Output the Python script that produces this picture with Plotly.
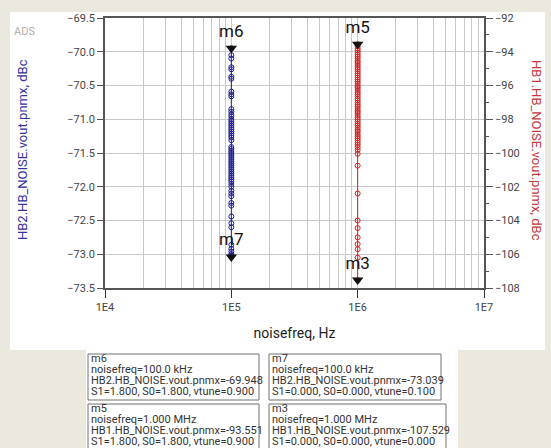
import plotly.graph_objects as go

# ---------------- data ----------------
hb2_freq = 1e5
hb2_pnmx = [-69.948, -70.05, -70.10, -70.23, -70.26, -70.37, -70.40, -70.59, -70.63, -70.66,
            -70.85, -70.89, -70.93, -70.96, -71.00, -71.03, -71.06, -71.09, -71.12, -71.15,
            -71.18, -71.21, -71.24, -71.27, -71.31, -71.41, -71.44, -71.47, -71.50, -71.53,
            -71.56, -71.59, -71.62, -71.65, -71.68, -71.71, -71.74, -71.77, -71.80, -71.83,
            -71.86, -71.89, -71.92, -71.96, -72.00, -72.06, -72.10, -72.14, -72.24, -72.28,
            -72.44, -72.54, -72.60, -72.86, -72.92, -72.96, -73.00, -73.02, -73.039]

hb1_freq = 1e6
hb1_pnmx = [-93.551, -93.68, -93.81, -93.92, -94.05, -94.18, -94.29, -94.42, -94.56, -94.66,
            -94.79, -94.92, -95.03, -95.16, -95.29, -95.40, -95.53, -95.66, -95.77, -95.90,
            -96.04, -96.14, -96.27, -96.41, -96.51, -96.64, -96.78, -96.88, -97.02, -97.15,
            -97.25, -97.39, -97.52, -97.62, -97.76, -97.89, -98.00, -98.13, -98.27, -98.37,
            -98.50, -98.64, -98.74, -98.88, -99.01, -99.12, -99.25, -99.39, -99.52, -99.66,
            -99.82, -100.05, -100.75, -102.40, -104.00, -104.45, -105.00, -105.40, -105.70,
            -106.20, -107.529]

marker_names = ["m6", "m7", "m5", "m3"]
marker_freq = [1e5, 1e5, 1e6, 1e6]
marker_freq_text = ["100.0 kHz", "100.0 kHz", "1.000 MHz", "1.000 MHz"]
marker_vals = [-69.948, -73.039, -93.551, -107.529]
marker_expr = ["HB2.HB_NOISE.vout.pnmx", "HB2.HB_NOISE.vout.pnmx",
               "HB1.HB_NOISE.vout.pnmx", "HB1.HB_NOISE.vout.pnmx"]
marker_axis = ["y", "y", "y2", "y2"]
marker_s1 = ["1.800", "0.000", "1.800", "0.000"]
marker_s0 = ["1.800", "0.000", "1.800", "0.000"]
marker_vtune = ["0.900", "0.100", "0.900", "0.000"]

x_tick_vals = [1e4, 1e5, 1e6, 1e7]
x_tick_text = ["1E4", "1E5", "1E6", "1E7"]

# ---------------- layout geometry ----------------
W, H = 551, 448
L, R, T, B = 105, 484, 18, 288


def px(x):
    return (x - L) / (R - L)


def py(y):
    return (B - y) / (B - T)


BLUE = "#1f1f8f"
RED = "#d02424"
BEIGE = "#ebe8de"
FONT = "Roboto"

fig = go.Figure()

fig.add_trace(go.Scatter(
    x=[hb2_freq] * len(hb2_pnmx), y=hb2_pnmx, mode="lines+markers",
    line=dict(color=BLUE, width=1),
    marker=dict(symbol="circle-open", size=5, color=BLUE, line=dict(width=1)),
    yaxis="y", showlegend=False))

fig.add_trace(go.Scatter(
    x=[hb1_freq] * len(hb1_pnmx), y=hb1_pnmx, mode="lines+markers",
    line=dict(color=RED, width=1),
    marker=dict(symbol="circle-open", size=5, color=RED, line=dict(width=1)),
    yaxis="y2", showlegend=False))

for name, f, v, ax in zip(marker_names, marker_freq, marker_vals, marker_axis):
    fig.add_trace(go.Scatter(
        x=[f], y=[v], mode="markers+text", text=[name], textposition="top center",
        textfont=dict(family=FONT, size=17, color="#111"),
        marker=dict(symbol="triangle-down", size=10, color="#111"),
        yaxis=ax, showlegend=False, cliponaxis=False))

shapes = [
    dict(type="rect", xref="paper", yref="paper", x0=px(10), x1=px(545), y0=py(350), y1=py(12),
         fillcolor="white", line=dict(width=0), layer="below"),
    dict(type="rect", xref="paper", yref="paper", x0=px(86), x1=px(458), y0=py(449), y1=py(349),
         fillcolor="white", line=dict(width=0), layer="below"),
]

annotations = [
    dict(text="ADS", xref="paper", yref="paper", x=px(12), y=py(31), xanchor="left",
         yanchor="middle", showarrow=False, font=dict(family=FONT, size=11, color="#b0b0b0")),
    dict(text="HB2.HB_NOISE.vout.pnmx, dBc", xref="paper", yref="paper", x=px(22), y=py(150),
         xanchor="center", yanchor="middle",
         textangle=-90, showarrow=False, font=dict(family=FONT, size=13, color="#33339a")),
    dict(text="HB1.HB_NOISE.vout.pnmx, dBc", xref="paper", yref="paper", x=px(537), y=py(150),
         xanchor="center", yanchor="middle",
         textangle=90, showarrow=False, font=dict(family=FONT, size=13, color="#c43a3a")),
]

box_x = [(88, 259), (269, 441), (88, 259), (269, 446)]
box_y = [(354, 400), (354, 400), (404, 452), (404, 452)]
line_offsets = [4.5, 15.5, 26.5, 37.5]

for i in range(4):
    x0, x1 = box_x[i]
    y0, y1 = box_y[i]
    shapes.append(dict(type="rect", xref="paper", yref="paper", x0=px(x0), x1=px(x1),
                       y0=py(y1), y1=py(y0), line=dict(color="#707070", width=1)))
    lines = [marker_names[i],
             "noisefreq=" + marker_freq_text[i],
             marker_expr[i] + "=" + f"{marker_vals[i]:.3f}",
             f"S1={marker_s1[i]}, S0={marker_s0[i]}, vtune={marker_vtune[i]}"]
    for off, txt in zip(line_offsets, lines):
        annotations.append(dict(text=txt, xref="paper", yref="paper", x=px(x0 + 1),
                                y=py(y0 + off), xanchor="left", yanchor="middle",
                                showarrow=False,
                                font=dict(family=FONT, size=11, color="#333")))

fig.update_layout(
    width=W, height=H,
    margin=dict(l=L, r=W - R, t=T, b=H - B, autoexpand=False),
    paper_bgcolor=BEIGE, plot_bgcolor="white",
    font=dict(family=FONT, size=11, color="#444"),
    shapes=shapes, annotations=annotations,
    xaxis=dict(type="log", range=[4, 7], tickvals=x_tick_vals, ticktext=x_tick_text,
               ticks="outside", ticklen=8, tickcolor="#333", showgrid=True,
               gridcolor="#c8c8c8", gridwidth=1, showline=True, linecolor="#555",
               linewidth=1.5, mirror=True, zeroline=False,
               minor=dict(showgrid=True, gridcolor="#c8c8c8", gridwidth=1, ticks="",
                          dtick="D1"),
               title=dict(text="noisefreq, Hz", font=dict(size=14, color="#222"), standoff=15),
               tickfont=dict(size=11, color="#444")),
    yaxis=dict(range=[-73.5, -69.5], dtick=0.5, tickformat=".1f", ticks="outside",
               ticklen=6, tickcolor="#555", showgrid=True, gridcolor="#c8c8c8",
               showline=True, linecolor="#555", linewidth=1.5, zeroline=False,
               tickfont=dict(size=11, color="#444")),
    yaxis2=dict(range=[-108, -92], dtick=2, overlaying="y", side="right", ticks="outside",
                ticklen=7, tickcolor="#555", showgrid=False, showline=True,
                linecolor="#555", linewidth=1.5, zeroline=False,
                minor=dict(dtick=1, ticks="outside", ticklen=3, tickcolor="#555"),
                tickfont=dict(size=11, color="#444")),
)

fig.write_html(
    "out.html",
    config={"displayModeBar": False},
    post_script="document.body.style.margin='0';document.body.style.overflow='hidden';"
                "document.body.style.background='" + BEIGE + "';",
)
